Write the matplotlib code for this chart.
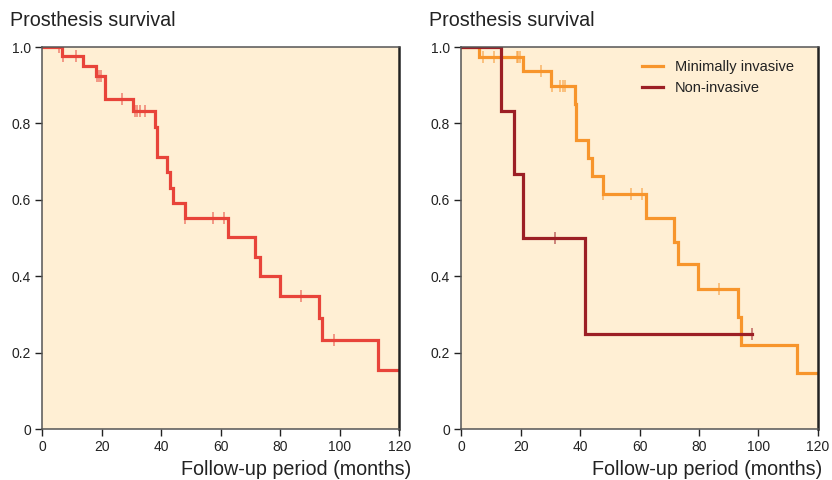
import matplotlib
matplotlib.use("Agg")
import matplotlib.pyplot as plt
import numpy as np

plt.rcParams['font.family'] = ['Liberation Sans', 'DejaVu Sans']

# left panel: all prostheses
all_t = [0, 6.5, 13.8, 18, 21, 30.5, 37.9, 38.7, 41.8, 43.1, 44, 48, 62.3, 71.5, 73.2, 79.9, 93, 94.1, 113, 120]
all_s = [1.0, 0.976, 0.95, 0.924, 0.864, 0.832, 0.792, 0.711, 0.674, 0.632, 0.593, 0.553, 0.503, 0.451, 0.40, 0.349, 0.292, 0.233, 0.154, 0.154]
all_cens = [5.5, 7, 11.3, 18.3, 19.2, 19.7, 26.7, 31.2, 31.9, 32.8, 34.5, 48, 57.3, 61.1, 86.9, 98]

# right panel: minimally invasive
mi_t = [0, 6.1, 20.9, 30.2, 38.1, 38.6, 42.8, 44.1, 47.8, 62.1, 71.6, 73.1, 79.8, 93, 94.1, 113, 120]
mi_s = [1.0, 0.975, 0.938, 0.899, 0.851, 0.758, 0.709, 0.663, 0.615, 0.553, 0.490, 0.431, 0.368, 0.294, 0.220, 0.146, 0.146]
mi_cens = [7.2, 11, 18.6, 19.2, 19.8, 26.7, 30.4, 33.2, 34.1, 34.9, 47.8, 57.2, 60.9, 86.7]

# right panel: non-invasive
ni_t = [0, 13.5, 17.6, 20.7, 41.7, 98]
ni_s = [1.0, 0.833, 0.667, 0.5, 0.25, 0.25]
ni_cens = [31.6, 98]

xticks = [0, 20, 40, 60, 80, 100, 120]
yticks = [0, 0.2, 0.4, 0.6, 0.8, 1.0]
ylabels = ['0', '0.2', '0.4', '0.6', '0.8', '1.0']

bg = '#ffefd4'
txt = '#222222'


def surv_at(t, s, x):
    # value of step function (post) at x
    idx = np.searchsorted(t, x, side='right') - 1
    return np.array(s)[idx]


def km(ax, t, s, cens, color, label=None):
    ax.step(t, s, where='post', color=color, lw=2.3, label=label, solid_joinstyle='miter')
    cy = surv_at(t, s, cens)
    ax.plot(cens, cy, ls='none', marker='|', ms=9, mew=1.2, color=color, alpha=0.6)


def style(ax):
    ax.set_facecolor(bg)
    ax.set_xlim(0, 120)
    ax.set_ylim(0, 1.0)
    ax.set_xticks(xticks)
    ax.set_yticks(yticks)
    ax.set_yticklabels(ylabels)
    ax.tick_params(direction='out', length=5, width=1, colors=txt, labelsize=10, pad=3)
    for sp in ['left', 'bottom', 'top']:
        ax.spines[sp].set_color('#555555')
        ax.spines[sp].set_linewidth(1.1)
    ax.spines['right'].set_color('#222222')
    ax.spines['right'].set_linewidth(1.8)


fig = plt.figure(figsize=(8.32, 4.8), dpi=100)
ax1 = fig.add_axes([0.0508, 0.106, 0.429, 0.796])
ax2 = fig.add_axes([0.5545, 0.106, 0.4284, 0.796])

km(ax1, all_t, all_s, all_cens, '#e8443a')
style(ax1)

km(ax2, mi_t, mi_s, mi_cens, '#f7952c', 'Minimally invasive')
km(ax2, ni_t, ni_s, ni_cens, '#9c1f25', 'Non-invasive')
style(ax2)
leg = ax2.legend(loc='upper left', bbox_to_anchor=(0.507, 0.965), frameon=False,
                 fontsize=10.5, handlelength=1.45, handletextpad=0.8, labelspacing=0.45,
                 borderpad=0, borderaxespad=0)
for tx in leg.get_texts():
    tx.set_color(txt)

fig.text(0.012, 0.957, 'Prosthesis survival', fontsize=14.2, color=txt, va='center', ha='left')
fig.text(0.516, 0.957, 'Prosthesis survival', fontsize=14.2, color=txt, va='center', ha='left')
fig.text(0.494, 0.022, 'Follow-up period (months)', fontsize=14.2, color=txt, va='center', ha='right')
fig.text(0.988, 0.022, 'Follow-up period (months)', fontsize=14.2, color=txt, va='center', ha='right')

fig.savefig('out.png', dpi=100, facecolor='white')
